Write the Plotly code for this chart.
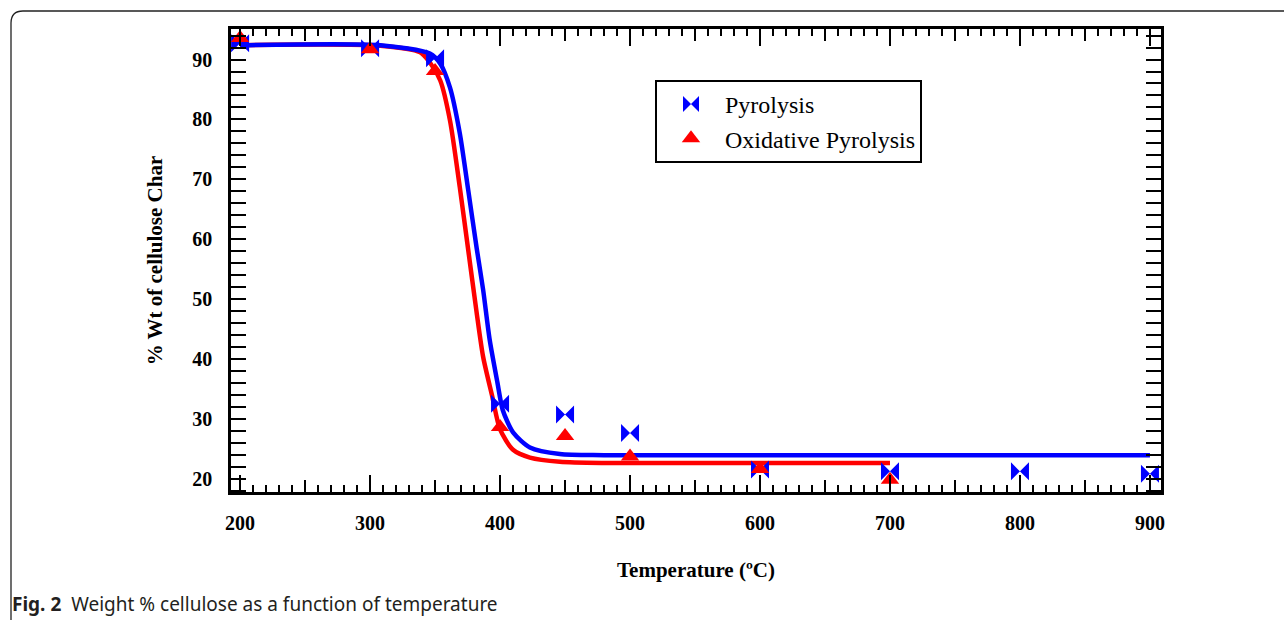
import plotly.graph_objects as go

# ---------------- data ----------------
pyro_temp = [200, 300, 350, 400, 450, 500, 600, 700, 800, 900]
pyro_wt = [92.7, 91.9, 90.2, 32.5, 30.7, 27.6, 21.5, 21.2, 21.2, 20.8]

oxid_temp = [200, 300, 350, 400, 450, 500, 600, 700]
oxid_wt = [93.6, 91.7, 88.1, 28.6, 27.1, 23.7, 21.6, 19.8]

pyro_fit_temp = [200, 308, 346, 354, 361.5, 369, 375.5, 382, 387, 392, 398, 402, 410, 423, 446, 480, 900]
pyro_fit_wt = [92.4, 92.4, 91.0, 89.3, 85.3, 77.7, 68.2, 58.5, 51.5, 43.2, 36.0, 31.5, 27.7, 25.2, 24.1, 23.9, 23.9]

oxid_fit_temp = [200, 308, 338.5, 346, 354, 361.5, 369, 375.5, 382, 387, 394, 400, 410, 423, 446, 480, 700]
oxid_fit_wt = [92.4, 92.3, 91.2, 89.5, 86.5, 79.8, 68.7, 58.2, 47.7, 40.3, 33.7, 28.2, 24.8, 23.5, 22.8, 22.6, 22.6]

x_major = [200, 300, 400, 500, 600, 700, 800, 900]
x_mid = [250, 350, 450, 550, 650, 750, 850]
y_major = [20, 30, 40, 50, 60, 70, 80, 90]

# ---------------- layout constants ----------------
W, H = 1284, 620
L, R, T, B = 231, 1161, 29, 492
XR = [193, 908.5]
YR = [17.75, 95.1]


def px(x):
    return (x - L) / (R - L)


def py(y):
    return (B - y) / (B - T)


SERIF = "Liberation Serif, Times New Roman, serif"
BLUE = "#0000ff"
RED = "#ff0000"

fig = go.Figure()

fig.add_trace(go.Scatter(x=oxid_fit_temp, y=oxid_fit_wt, mode="lines",
                         line=dict(color=RED, width=4.5, shape="spline", smoothing=0.7),
                         showlegend=False, hoverinfo="skip"))
fig.add_trace(go.Scatter(x=pyro_fit_temp, y=pyro_fit_wt, mode="lines",
                         line=dict(color=BLUE, width=4.5, shape="spline", smoothing=0.7),
                         showlegend=False, hoverinfo="skip"))
fig.add_trace(go.Scatter(x=pyro_temp, y=pyro_wt, mode="markers", name="Pyrolysis",
                         marker=dict(symbol="bowtie", size=18, color=BLUE)))
fig.add_trace(go.Scatter(x=oxid_temp, y=oxid_wt, mode="markers", name="Oxidative Pyrolysis",
                         marker=dict(symbol="triangle-up", size=16, color=RED)))
# invisible trace to carry the mid ticks axis
fig.add_trace(go.Scatter(x=[XR[0]], y=[YR[0]], xaxis="x2", mode="markers",
                         marker=dict(opacity=0), showlegend=False, hoverinfo="skip"))

fig.update_layout(
    width=W, height=H,
    margin=dict(l=L, r=W - R, t=T, b=H - B),
    paper_bgcolor="white", plot_bgcolor="white",
    font=dict(family=SERIF, color="black"),
    xaxis=dict(range=XR, showgrid=False, zeroline=False,
               showline=True, linecolor="black", linewidth=2.5, mirror="allticks",
               tickmode="array", tickvals=x_major, ticks="inside", ticklen=17, tickwidth=2,
               tickcolor="black",
               minor=dict(dtick=10, tick0=200, ticks="inside", ticklen=7, tickwidth=2, tickcolor="black"),
               tickfont=dict(family=SERIF, size=20, color="black", weight="bold"),
               ticklabelstandoff=11,
               title=dict(text="Temperature (ºC)", font=dict(family=SERIF, size=21, weight="bold"),
                          standoff=30)),
    xaxis2=dict(range=XR, overlaying="x", side="bottom", showgrid=False, zeroline=False,
                showline=False, mirror="allticks", tickmode="array", tickvals=x_mid,
                ticks="inside", ticklen=12, tickwidth=2, tickcolor="black",
                showticklabels=False),
    yaxis=dict(range=YR, showgrid=False, zeroline=False,
               showline=True, linecolor="black", linewidth=2.5, mirror="allticks",
               tickmode="array", tickvals=y_major, ticks="inside", ticklen=15, tickwidth=2,
               tickcolor="black",
               minor=dict(dtick=2, tick0=20, ticks="inside", ticklen=9, tickwidth=2, tickcolor="black"),
               tickfont=dict(family=SERIF, size=20, color="black", weight="bold"),
               ticklabelstandoff=12,
               title=dict(text="% Wt of cellulose Char", font=dict(family=SERIF, size=21, weight="bold"),
                          standoff=24)),
    legend=dict(x=px(655), y=py(80), xanchor="left", yanchor="top",
                bgcolor="white", bordercolor="black", borderwidth=2,
                font=dict(family=SERIF, size=24, color="black"),
                itemwidth=58, tracegroupgap=0),
    showlegend=True,
)

# outer rounded frame (page figure border)
fx0, fy0, rad = 11, 11, 12
path = (f"M {px(W + 10)},{py(fy0)} L {px(fx0 + rad)},{py(fy0)} "
        f"Q {px(fx0)},{py(fy0)} {px(fx0)},{py(fy0 + rad)} L {px(fx0)},{py(H + 10)}")
fig.add_shape(type="path", path=path, xref="paper", yref="paper",
              line=dict(color="#222222", width=1.3), layer="above")

fig.add_annotation(x=px(10), y=py(604), xref="paper", yref="paper",
                   xanchor="left", yanchor="middle", showarrow=False,
                   text="<b>Fig. 2</b>  Weight % cellulose as a function of temperature",
                   font=dict(family="Noto Sans, Open Sans, sans-serif", size=19, color="#231f20"))

fig.write_html("out.html")
